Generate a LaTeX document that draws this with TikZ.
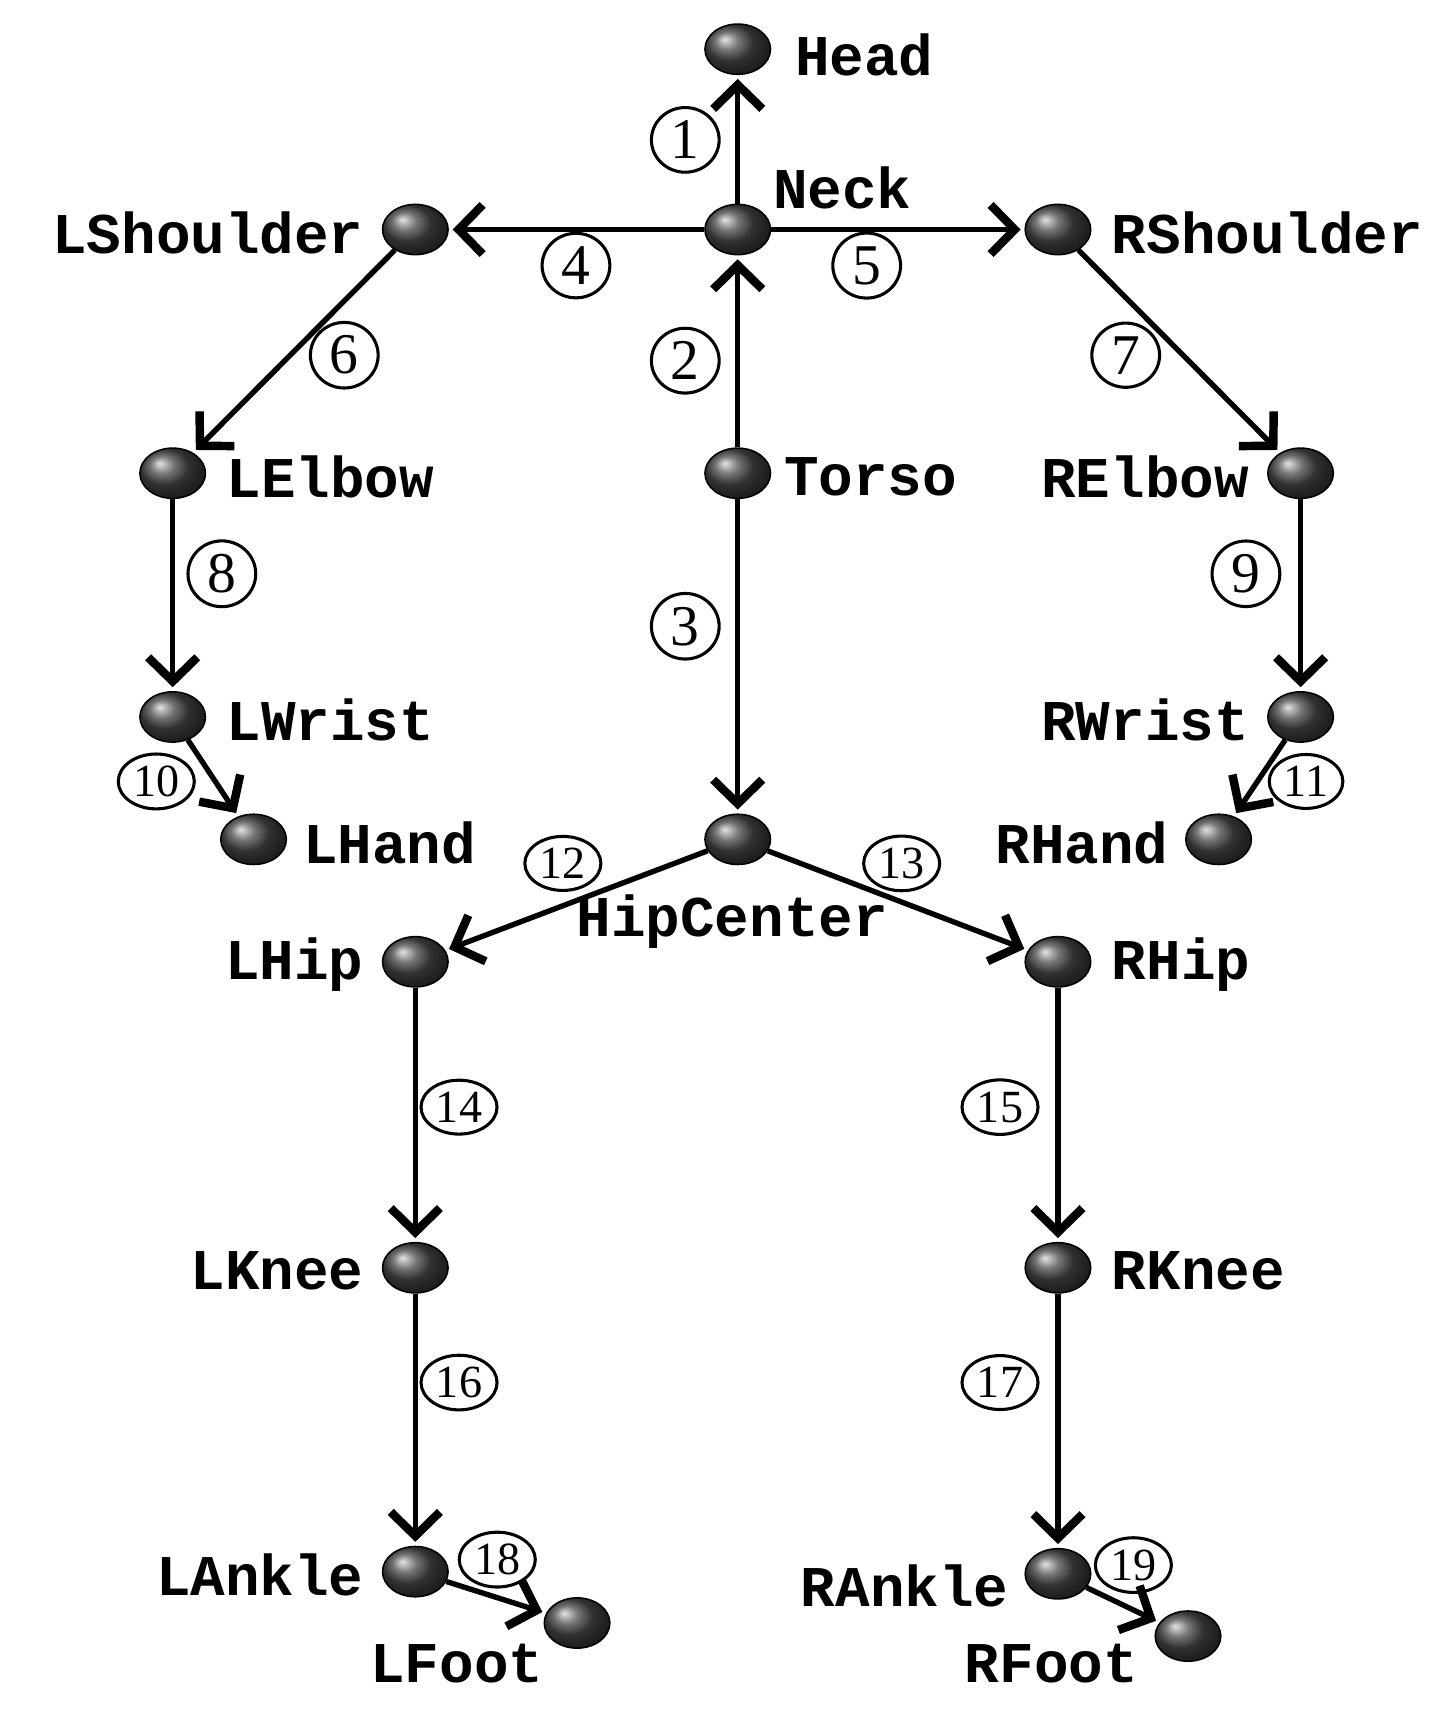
\documentclass[tikz,border=0pt]{standalone}
\usepackage{fontspec}
\setmainfont{Liberation Serif}
\newfontfamily\jointfont{Liberation Mono}
\usetikzlibrary{arrows.meta, shapes.geometric}

\begin{document}
\begin{tikzpicture}[
    joint/.style={ellipse, minimum width=0.6cm, minimum height=0.46cm, inner sep=0pt, ball color=gray!55!black, draw=black},
    lbl/.style={font=\jointfont\bfseries\fontsize{15}{17}\selectfont},
    num/.style={ellipse, draw, thick, inner sep=1pt, minimum width=0.62cm, minimum height=0.42cm, font=\fontsize{15}{17}\selectfont},
    smallnum/.style={num, font=\fontsize{12}{14}\selectfont},
    bone/.style={line width=1.4pt, -{Straight Barb[length=0.22cm, width=0.45cm, line width=2.2pt]}, shorten >=1pt}
  ]
    \useasboundingbox (0,0) rectangle (13.3,-15.82);

    % Joints
    \foreach \name/\x/\y in {Head/6.75/0.45, Neck/6.75/2.10, LShoulder/3.80/2.10, RShoulder/9.68/2.10,
        LElbow/1.58/4.33, Torso/6.75/4.33, RElbow/11.90/4.33, LWrist/1.58/6.56, RWrist/11.90/6.56,
        LHand/2.32/7.68, RHand/11.15/7.68, HipCenter/6.75/7.68, LHip/3.80/8.80, RHip/9.68/8.80,
        LKnee/3.80/11.60, RKnee/9.68/11.60, LAnkle/3.80/14.38, RAnkle/9.68/14.40, LFoot/5.28/14.85, RFoot/10.87/14.97}
        \node[joint] (\name) at (\x,-\y) {};

    % Bones
    \foreach \a/\b in {Neck/Head, Torso/Neck, Torso/HipCenter, Neck/LShoulder, Neck/RShoulder,
        LShoulder/LElbow, RShoulder/RElbow, LElbow/LWrist, RElbow/RWrist, LWrist/LHand, RWrist/RHand,
        HipCenter/LHip, HipCenter/RHip, LHip/LKnee, RHip/RKnee, LKnee/LAnkle, RKnee/RAnkle,
        LAnkle/LFoot, RAnkle/RFoot}
        \draw[bone] (\a) -- (\b);

    % Joint names
    \node[lbl, right] at (7.15,-0.5) {Head};
    \node[lbl, right] at (6.95,-1.72) {Neck};
    \node[lbl, left] at (3.45,-2.13) {LShoulder};
    \node[lbl, right] at (10.05,-2.13) {RShoulder};
    \node[lbl, right] at (1.95,-4.36) {LElbow};
    \node[lbl, right] at (7.05,-4.36) {Torso};
    \node[lbl, left] at (11.55,-4.36) {RElbow};
    \node[lbl, right] at (1.95,-6.59) {LWrist};
    \node[lbl, left] at (11.55,-6.59) {RWrist};
    \node[lbl, right] at (2.65,-7.71) {LHand};
    \node[lbl] at (9.9,-7.71) {RHand};
    \node[lbl] at (6.7,-8.43) {HipCenter};
    \node[lbl, left] at (3.45,-8.83) {LHip};
    \node[lbl, right] at (10.05,-8.83) {RHip};
    \node[lbl, left] at (3.45,-11.63) {LKnee};
    \node[lbl, right] at (10.05,-11.63) {RKnee};
    \node[lbl, left] at (3.45,-14.41) {LAnkle};
    \node[lbl, left] at (9.35,-14.51) {RAnkle};
    \node[lbl] at (4.18,-15.22) {LFoot};
    \node[lbl] at (9.62,-15.22) {RFoot};

    % Bone numbers
    \foreach \n/\x/\y in {1/6.27/1.28, 2/6.27/3.30, 3/6.27/5.73, 4/5.27/2.43, 5/7.93/2.43,
        6/3.15/3.25, 7/10.30/3.25, 8/2.03/5.25, 9/11.40/5.25}
        \node[num] (n\n) at (\x,-\y) {\n};
    \foreach \n/\x/\y in {10/1.43/7.15, 11/11.95/7.15, 12/5.15/7.90, 13/8.25/7.90, 14/4.20/10.13,
        15/9.15/10.13, 16/4.20/12.65, 17/9.15/12.65, 18/4.55/14.27, 19/10.37/14.32}
        \node[smallnum] (n\n) at (\x,-\y) {\n};
\end{tikzpicture}
\end{document}
